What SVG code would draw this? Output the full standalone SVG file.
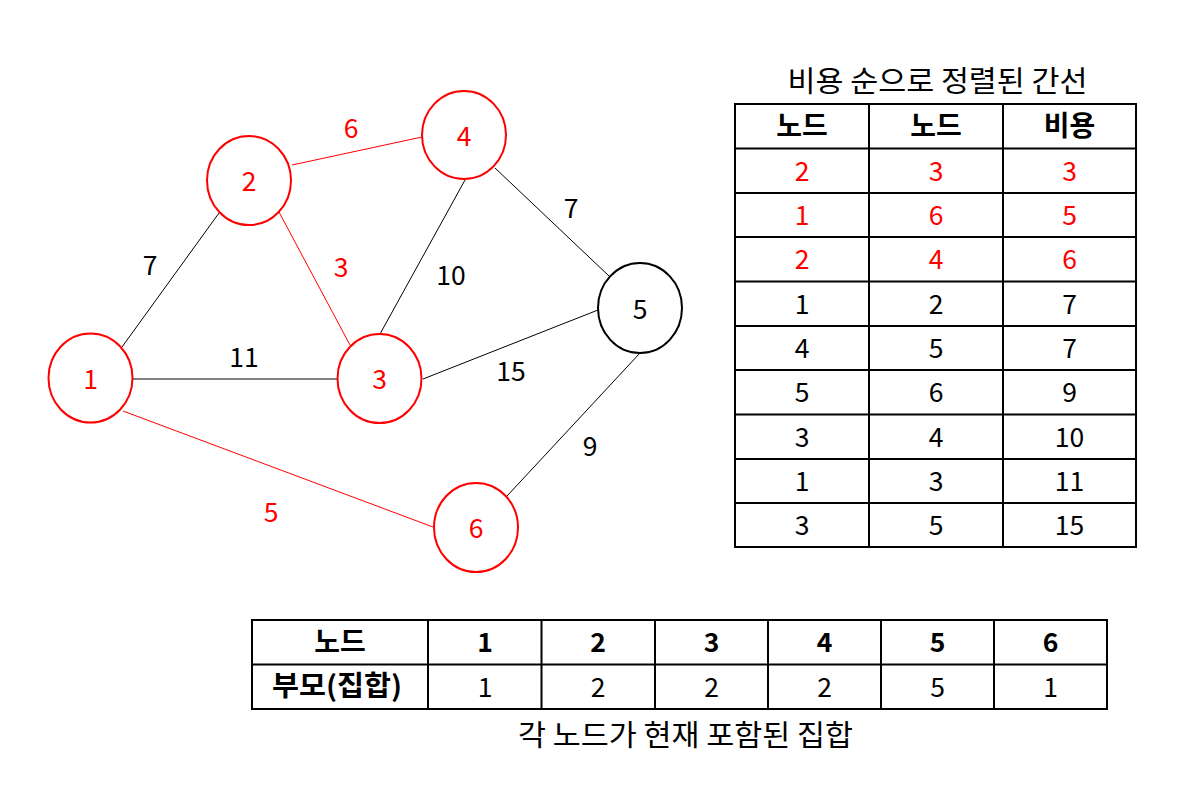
<svg xmlns="http://www.w3.org/2000/svg" width="1195" height="789" viewBox="0 0 1195 789">
<style>
text{font-family:"Noto Sans CJK KR","Noto Sans",sans-serif;font-size:26.5px;text-anchor:middle;dominant-baseline:central;fill:#000}
.r{fill:#FF0000}
.b{font-weight:bold}
.k{font-size:29px}
.kb{font-size:28px;font-weight:bold}
.node ellipse{fill:#fff;stroke-width:2}
.rn ellipse{stroke:#FF0000}
.bn ellipse{stroke:#000}
.e{stroke:#000;stroke-width:1}
.er{stroke:#FF0000;stroke-width:1}
.grid line{stroke:#000;stroke-width:2}
</style>
<rect width="1195" height="789" fill="#fff"/>
<g id="connectors">
<line class="e" x1="122" y1="347" x2="219" y2="213"/>
<line class="e" x1="133" y1="379" x2="337" y2="379"/>
<line class="er" x1="292" y1="165" x2="422" y2="137"/>
<line class="er" x1="279" y1="212" x2="350" y2="345"/>
<line class="e" x1="465" y1="180" x2="380" y2="334"/>
<line class="e" x1="495" y1="168" x2="609" y2="276"/>
<line class="e" x1="423" y1="379" x2="598" y2="310"/>
<line class="e" x1="640" y1="353" x2="507" y2="496"/>
<line class="er" x1="123" y1="411" x2="433" y2="527"/>
<text x="150" y="263">7</text>
<text x="244" y="355">11</text>
<text class="r" x="351" y="126">6</text>
<text class="r" x="341" y="265">3</text>
<text x="451" y="273">10</text>
<text x="571" y="206">7</text>
<text x="511" y="369">15</text>
<text x="590" y="444">9</text>
<text class="r" x="271" y="510">5</text>
</g>
<g id="node1" class="node rn"><ellipse cx="90.5" cy="378" rx="42" ry="44.5"/><text class="r" x="90.5" y="377.5">1</text></g>
<g id="node2" class="node rn"><ellipse cx="249" cy="180.5" rx="42" ry="44.5"/><text class="r" x="249" y="179">2</text></g>
<g id="node3" class="node rn"><ellipse cx="379.5" cy="378.5" rx="42" ry="44.5"/><text class="r" x="379.5" y="377.5">3</text></g>
<g id="node4" class="node rn"><ellipse cx="464" cy="135" rx="42" ry="44"/><text class="r" x="464" y="134">4</text></g>
<g id="node5" class="node bn"><ellipse cx="640" cy="308" rx="42" ry="45"/><text x="640" y="307">5</text></g>
<g id="node6" class="node rn"><ellipse cx="476" cy="527.5" rx="42" ry="44.5"/><text class="r" x="476" y="526">6</text></g>
<g id="edge-table">
<text class="k" x="937.5" y="79" textLength="300" lengthAdjust="spacingAndGlyphs">비용 순으로 정렬된 간선</text>
<g class="grid">
<line x1="735" y1="104" x2="1136" y2="104"/>
<line x1="735" y1="148.5" x2="1136" y2="148.5"/>
<line x1="735" y1="193" x2="1136" y2="193"/>
<line x1="735" y1="237" x2="1136" y2="237"/>
<line x1="735" y1="281.5" x2="1136" y2="281.5"/>
<line x1="735" y1="326" x2="1136" y2="326"/>
<line x1="735" y1="370" x2="1136" y2="370"/>
<line x1="735" y1="414.5" x2="1136" y2="414.5"/>
<line x1="735" y1="459" x2="1136" y2="459"/>
<line x1="735" y1="503" x2="1136" y2="503"/>
<line x1="735" y1="547" x2="1136" y2="547"/>
<line x1="735" y1="103" x2="735" y2="548"/>
<line x1="869" y1="103" x2="869" y2="548"/>
<line x1="1003" y1="103" x2="1003" y2="548"/>
<line x1="1136" y1="103" x2="1136" y2="548"/>
</g>
<text class="kb" x="802" y="124">노드</text><text class="kb" x="936" y="124">노드</text><text class="kb" x="1069.5" y="124">비용</text>
<text class="r" x="802" y="169">2</text><text class="r" x="936" y="169">3</text><text class="r" x="1069.5" y="169">3</text>
<text class="r" x="802" y="213">1</text><text class="r" x="936" y="213">6</text><text class="r" x="1069.5" y="213">5</text>
<text class="r" x="802" y="257.5">2</text><text class="r" x="936" y="257.5">4</text><text class="r" x="1069.5" y="257.5">6</text>
<text x="802" y="302">1</text><text x="936" y="302">2</text><text x="1069.5" y="302">7</text>
<text x="802" y="346">4</text><text x="936" y="346">5</text><text x="1069.5" y="346">7</text>
<text x="802" y="390.5">5</text><text x="936" y="390.5">6</text><text x="1069.5" y="390.5">9</text>
<text x="802" y="435">3</text><text x="936" y="435">4</text><text x="1069.5" y="435">10</text>
<text x="802" y="479">1</text><text x="936" y="479">3</text><text x="1069.5" y="479">11</text>
<text x="802" y="523">3</text><text x="936" y="523">5</text><text x="1069.5" y="523">15</text>
</g>
<g id="set-table">
<g class="grid">
<line x1="252" y1="620" x2="1107" y2="620"/>
<line x1="252" y1="664.5" x2="1107" y2="664.5"/>
<line x1="252" y1="709" x2="1107" y2="709"/>
<line x1="252" y1="619" x2="252" y2="710"/>
<line x1="428" y1="619" x2="428" y2="710"/>
<line x1="541.5" y1="619" x2="541.5" y2="710"/>
<line x1="655" y1="619" x2="655" y2="710"/>
<line x1="768" y1="619" x2="768" y2="710"/>
<line x1="881" y1="619" x2="881" y2="710"/>
<line x1="994" y1="619" x2="994" y2="710"/>
<line x1="1107" y1="619" x2="1107" y2="710"/>
</g>
<text class="kb" x="340" y="640">노드</text>
<text class="b" x="485" y="640">1</text><text class="b" x="598" y="640">2</text><text class="b" x="711.5" y="640">3</text><text class="b" x="824.5" y="640">4</text><text class="b" x="937.5" y="640">5</text><text class="b" x="1050.5" y="640">6</text>
<text class="kb" x="337" y="684" textLength="130" lengthAdjust="spacingAndGlyphs">부모(집합)</text>
<text x="485" y="685">1</text><text x="598" y="685">2</text><text x="711.5" y="685">2</text><text x="824.5" y="685">2</text><text x="937.5" y="685">5</text><text x="1050.5" y="685">1</text>
<text class="k" x="685.5" y="733" textLength="335" lengthAdjust="spacingAndGlyphs">각 노드가 현재 포함된 집합</text>
</g>
</svg>
